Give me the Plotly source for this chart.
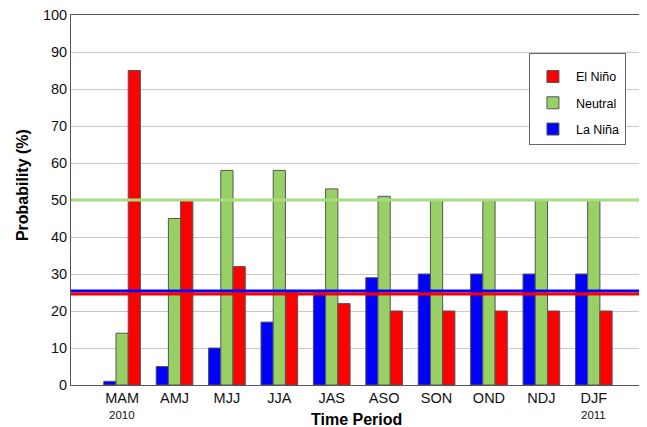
import plotly.graph_objects as go

categories = ["MAM", "AMJ", "MJJ", "JJA", "JAS", "ASO", "SON", "OND", "NDJ", "DJF"]
la_nina = [1, 5, 10, 17, 25, 29, 30, 30, 30, 30]
neutral = [14, 45, 58, 58, 53, 51, 50, 50, 50, 50]
el_nino = [85, 50, 32, 25, 22, 20, 20, 20, 20, 20]
year_labels = {0: "2010", 9: "2011"}
clim_neutral = 50
clim_la_nina = 25.4
clim_el_nino = 24.6

C_RED = "#ff0000"
C_GREEN = "#99d066"
C_BLUE = "#0000ff"
FONT = "Liberation Sans, Arial, sans-serif"

x = list(range(len(categories)))
fig = go.Figure()
for rank, (name, vals, col) in zip([3, 2, 1], [("La Niña", la_nina, C_BLUE), ("Neutral", neutral, C_GREEN), ("El Niño", el_nino, C_RED)]):
    fig.add_trace(go.Bar(x=x, y=vals, name=name, legendgroup=name, legendrank=rank,
                         marker=dict(color=col, line=dict(color="#555555", width=1))))

for val, col in [(clim_neutral, "#a8dc80"), (clim_la_nina, C_BLUE), (clim_el_nino, C_RED)]:
    fig.add_shape(type="line", xref="paper", yref="y", x0=0, x1=1, y0=val, y1=val,
                  line=dict(color=col, width=3), layer="above")

for i, yr in year_labels.items():
    fig.add_annotation(x=i, y=-0.08, xref="x", yref="paper", text=yr, showarrow=False,
                       font=dict(size=11.5, color="#111", family=FONT), yanchor="middle")

fig.add_annotation(x=0.5, y=-0.092, xref="paper", yref="paper", text="<b>Time Period</b>",
                   showarrow=False, font=dict(size=16, color="#000", family=FONT), yanchor="middle")
fig.add_annotation(x=-0.086, y=0.54, xref="paper", yref="paper", text="<b>Probability (%)</b>",
                   textangle=-90, showarrow=False, font=dict(size=16, color="#000", family=FONT),
                   xanchor="center", yanchor="middle")

fig.update_layout(
    width=639, height=419,
    margin=dict(l=63, r=5, t=7, b=42, autoexpand=False),
    paper_bgcolor="white", plot_bgcolor="white",
    barmode="group", bargap=0.3, bargroupgap=0,
    font=dict(family=FONT, size=14, color="#111"),
    showlegend=True,
    legend=dict(x=0.802, y=0.897, xanchor="left", yanchor="top", traceorder="grouped",
                bgcolor="white", bordercolor="#666", borderwidth=1,
                font=dict(size=12.5, family=FONT, color="#000"), itemwidth=36,
                tracegroupgap=7,
                title=dict(text=" ", font=dict(size=6))),
    xaxis=dict(range=[-0.975, 9.92], tickmode="array", tickvals=x, ticktext=categories,
               showgrid=False, showline=True, linecolor="#555", linewidth=1, mirror=True,
               ticks="", zeroline=False, tickfont=dict(size=14.5, color="#111"), automargin=False),
    yaxis=dict(range=[0, 100], dtick=10, showgrid=True, gridcolor="#c8c8c8", gridwidth=1,
               showline=True, linecolor="#555", linewidth=1, mirror=True, ticks="",
               zeroline=False, tickfont=dict(size=14.5, color="#111"), ticklabeloverflow="allow",
               automargin=False),
)

fig.write_html("out.html")
